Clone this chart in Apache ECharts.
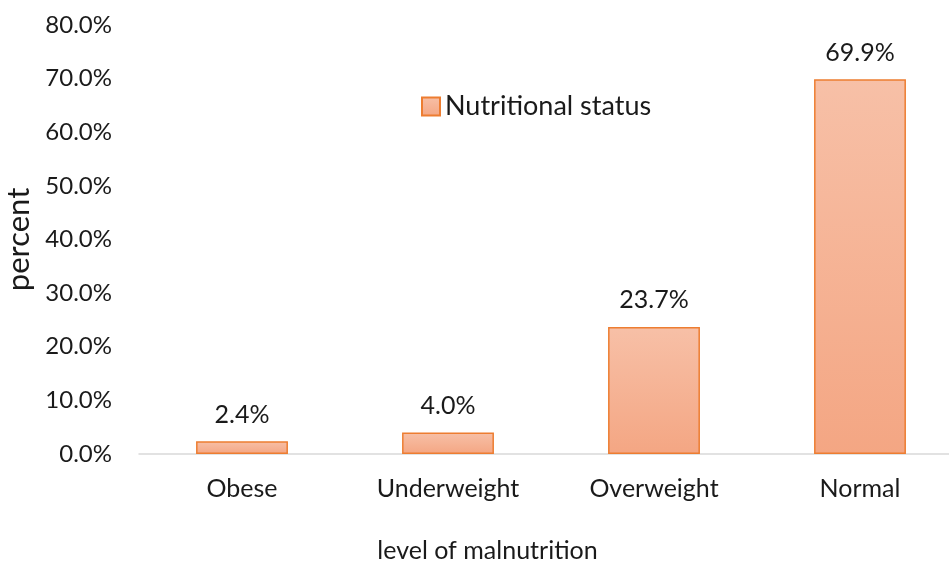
<!DOCTYPE html>
<html>
<head>
<meta charset="utf-8">
<script src="https://cdn.jsdelivr.net/npm/echarts@6/dist/echarts.min.js"></script>
<style>html,body{margin:0;padding:0;background:#fff}#c{width:949px;height:564px}</style>
</head>
<body>
<div id="c"></div>
<script>
var categories = ['Obese', 'Underweight', 'Overweight', 'Normal'];
var values = [2.4, 4.0, 23.7, 69.9];
var seriesName = 'Nutritional status';
var xName = 'level of malnutrition';
var yName = 'percent';

var FONT = 'Lato';
var chart = echarts.init(document.getElementById('c'));
var barColor = new echarts.graphic.LinearGradient(0, 0, 0, 1, [
  {offset: 0, color: '#f7c0a7'},
  {offset: 1, color: '#f4a683'}
]);
chart.setOption({
  animation: false,
  textStyle: {fontFamily: FONT},
  grid: {left: 139, width: 824, top: 25, bottom: 110, outerBoundsMode: 'none', containLabel: false},
  legend: {
    data: [seriesName],
    icon: 'rect',
    left: 416, top: 88,
    itemWidth: 18, itemHeight: 18,
    itemGap: 10,
    textStyle: {fontFamily: FONT, fontSize: 27, color: '#1a1a1a'}
  },
  xAxis: {
    type: 'category',
    data: categories,
    name: xName,
    nameLocation: 'middle',
    nameGap: 84,
    nameTextStyle: {fontFamily: FONT, fontSize: 25, color: '#1a1a1a', padding: [0, 127, 0, 0]},
    axisLine: {lineStyle: {color: '#d9d9d9', width: 1.5}},
    axisTick: {show: false},
    axisLabel: {fontFamily: FONT, fontSize: 25, color: '#1a1a1a', margin: 22}
  },
  yAxis: {
    type: 'value',
    min: 0, max: 80, interval: 10,
    name: yName,
    nameLocation: 'middle',
    nameGap: 104,
    nameTextStyle: {fontFamily: FONT, fontSize: 31, color: '#1a1a1a'},
    splitLine: {show: false},
    axisLine: {show: false},
    axisTick: {show: false},
    axisLabel: {
      fontFamily: FONT, fontSize: 24, color: '#1a1a1a', margin: 27,
      formatter: function (v) { return v.toFixed(1) + '%'; }
    }
  },
  series: [{
    name: seriesName,
    type: 'bar',
    data: values,
    barWidth: '44.6%',
    itemStyle: {color: barColor, borderColor: '#ed7d31', borderWidth: 1.5},
    label: {
      show: true, position: 'top', distance: 14,
      fontFamily: FONT, fontSize: 25, color: '#1a1a1a',
      formatter: function (p) { return p.value.toFixed(1) + '%'; }
    }
  }]
});
</script>
</body>
</html>
